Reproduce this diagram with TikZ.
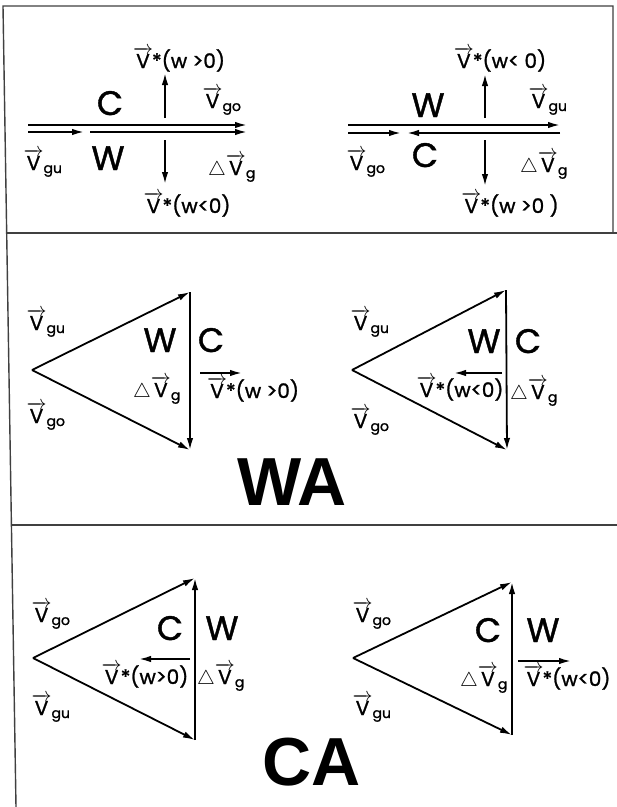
\documentclass[tikz,border=0pt]{standalone}
\usepackage{fix-cm}
\usepackage{amsmath}
\usepackage{fontspec}
\setmainfont{Poppins}[UprightFeatures={FakeBold=1.2}]
\newfontfamily\titlefont{Liberation Sans}
\usetikzlibrary{arrows.meta}
\newcommand\Vsub[1]{\raisebox{0pt}[21pt]{$\overrightarrow{\text{V}}_{\text{#1}}$}}
\newcommand\dVg{\raisebox{0pt}[21pt]{$\triangle\overrightarrow{\text{V}}_{\text{g}}$}}
\newcommand\Vst[1]{\raisebox{0pt}[21pt]{$\overrightarrow{\text{V}}$}\kern-1pt*(#1)}
\begin{document}
\begin{tikzpicture}[x=1pt,y=-1pt,
  vec/.style={line width=1.8pt,-{Latex[length=12pt,width=6.5pt]}},
  frameline/.style={line width=1.4pt,draw=black!75},
  lab/.style={font=\fontsize{20}{22}\selectfont,inner sep=0pt,anchor=base},
  bigl/.style={font=\fontsize{34}{36}\selectfont,inner sep=0pt,anchor=base},
  ttl/.style={font=\titlefont\bfseries\fontsize{68}{72}\selectfont,inner sep=0pt,anchor=base}]
\useasboundingbox (0,0) rectangle (617,807);
\fill[white] (0,0) rectangle (617,807);
% frame
\coordinate (fTL) at (3,6); \coordinate (fBL) at (16,807);
\coordinate (fTR) at (613,6); \coordinate (fR1) at (613,233);
\coordinate (d1l) at (7,233); \coordinate (d1r) at (617,233);
\coordinate (d2l) at (12,525); \coordinate (d2r) at (617,525);
\draw[frameline] (fBL) -- (fTL) -- (fTR) -- (fR1);
\draw[frameline] (d1l) -- (d1r);
\draw[frameline] (d2l) -- (d2r);

% ===== panel 1 left =====
\coordinate (A1s) at (28,125); \coordinate (A1e) at (247,125);
\coordinate (A2s) at (28,132); \coordinate (A2e) at (84,132);
\coordinate (A3s) at (90,132); \coordinate (A3e) at (247,132);
\coordinate (A4s) at (165,118); \coordinate (A4e) at (165,73);
\coordinate (A5s) at (165,140); \coordinate (A5e) at (165,184);
\draw[vec] (A1s) -- (A1e);
\draw[vec] (A2s) -- (A2e);
\draw[vec] (A3s) -- (A3e);
\draw[vec] (A4s) -- (A4e);
\draw[vec] (A5s) -- (A5e);
\node[lab] (a_vst1) at (179,68) {\Vst{w >0}};
\node[lab] (a_vst2) at (187,213) {\Vst{w<0}};
\node[lab] (a_vgu) at (43,170) {\Vsub{gu}};
\node[lab] (a_vgo) at (222,108) {\Vsub{go}};
\node[lab] (a_dvg) at (232,175) {\dVg};
\node[bigl] (a_C) at (110,115) {C};
\node[bigl] (a_W) at (108,170) {W};

% ===== panel 1 right =====
\coordinate (B1s) at (348,125); \coordinate (B1e) at (560,125);
\coordinate (B2s) at (348,133); \coordinate (B2e) at (401,133);
\coordinate (B3s) at (560,133); \coordinate (B3e) at (407,133);
\coordinate (B4s) at (485,118); \coordinate (B4e) at (485,74);
\coordinate (B5s) at (485,140); \coordinate (B5e) at (485,186);
\draw[vec] (B1s) -- (B1e);
\draw[vec] (B2s) -- (B2e);
\draw[vec] (B3s) -- (B3e);
\draw[vec] (B4s) -- (B4e);
\draw[vec] (B5s) -- (B5e);
\node[lab] (b_vst1) at (500,68) {\Vst{w< 0}};
\node[lab] (b_vst2) at (510,213) {\Vst{w >0 }};
\node[lab] (b_vgu) at (548,108) {\Vsub{gu}};
\node[lab] (b_vgo) at (366,170) {\Vsub{go}};
\node[lab] (b_dvg) at (544,172) {\dVg};
\node[bigl] (b_W) at (428,117) {W};
\node[bigl] (b_C) at (425,167) {C};

% ===== panel 2 left =====
\coordinate (C0) at (32,370); \coordinate (Ct) at (190,292); \coordinate (Cb) at (190,450);
\coordinate (C4s) at (200,373); \coordinate (C4e) at (242,373);
\draw[vec] (C0) -- (Ct);
\draw[vec] (C0) -- (Cb);
\draw[vec] (Ct) -- (Cb);
\draw[vec] (C4s) -- (C4e);
\node[lab] (c_vgu) at (46,330) {\Vsub{gu}};
\node[lab] (c_vgo) at (46,423) {\Vsub{go}};
\node[bigl] (c_W) at (160,352) {W};
\node[bigl] (c_C) at (211,352) {C};
\node[lab] (c_dvg) at (157,397) {\dVg};
\node[lab] (c_vst) at (253,398) {\Vst{w >0}};

% ===== panel 2 right =====
\coordinate (D0) at (352,370); \coordinate (Dt) at (506,290); \coordinate (Db) at (507,450);
\coordinate (D4s) at (502,373); \coordinate (D4e) at (454,373);
\draw[vec] (D0) -- (Dt);
\draw[vec] (D0) -- (Db);
\draw[vec] (Dt) -- (Db);
\draw[vec] (D4s) -- (D4e);
\node[lab] (d_vgu) at (370,330) {\Vsub{gu}};
\node[lab] (d_vgo) at (370,428) {\Vsub{go}};
\node[bigl] (d_W) at (484,353) {W};
\node[bigl] (d_C) at (528,353) {C};
\node[lab] (d_vst) at (460,397) {\Vst{w<0}};
\node[lab] (d_dvg) at (534,399) {\dVg};
\node[ttl] (WA) at (292,505) {WA};

% ===== panel 3 left =====
\coordinate (E0) at (33,658); \coordinate (Et) at (195,578); \coordinate (Eb) at (195,740);
\coordinate (E4s) at (190,659); \coordinate (E4e) at (139,659);
\draw[vec] (E0) -- (Et);
\draw[vec] (E0) -- (Eb);
\draw[vec] (Eb) -- (Et);
\draw[vec] (E4s) -- (E4e);
\node[lab] (e_vgo) at (51,622) {\Vsub{go}};
\node[lab] (e_vgu) at (51,715) {\Vsub{gu}};
\node[bigl] (e_C) at (170,640) {C};
\node[bigl] (e_W) at (222,640) {W};
\node[lab] (e_vst) at (145,684) {\Vst{w>0}};
\node[lab] (e_dvg) at (221,684) {\dVg};
\node[ttl] (CA) at (312,785) {CA};

% ===== panel 3 right =====
\coordinate (F0) at (353,658); \coordinate (Ft) at (512,582); \coordinate (Fb) at (512,735);
\coordinate (F4s) at (518,661); \coordinate (F4e) at (571,661);
\draw[vec] (F0) -- (Ft);
\draw[vec] (F0) -- (Fb);
\draw[vec] (Fb) -- (Ft);
\draw[vec] (F4s) -- (F4e);
\node[lab] (f_vgo) at (372,622) {\Vsub{go}};
\node[lab] (f_vgu) at (372,715) {\Vsub{gu}};
\node[bigl] (f_C) at (488,642) {C};
\node[bigl] (f_W) at (543,642) {W};
\node[lab] (f_dvg) at (484,686) {\dVg};
\node[lab] (f_vst) at (567,686) {\Vst{w<0}};
\end{tikzpicture}
\end{document}
